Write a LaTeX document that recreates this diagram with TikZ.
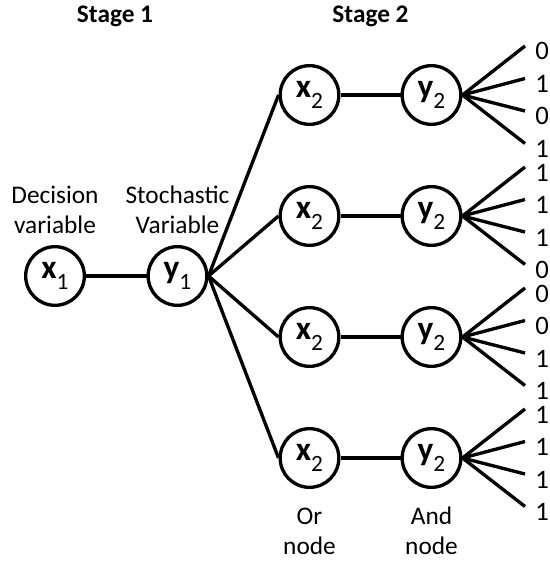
\documentclass[tikz,border=0pt]{standalone}
\usepackage{fontspec}
\setmainfont{Carlito}
% bold variable name with a lowered index
\newcommand\varlbl[2]{{\fontsize{25pt}{25pt}\selectfont\bfseries #1}\raisebox{-8pt}{\fontsize{17.5pt}{17.5pt}\selectfont #2}}
\begin{document}
\begin{tikzpicture}[x=0.75pt,y=-0.75pt,
  state/.style={circle,draw,line width=2.5pt,minimum size=44pt,inner sep=0pt},
  link/.style={line width=2.5pt},
  caption/.style={font=\fontsize{19pt}{22.5pt}\selectfont,align=center,inner sep=0pt},
  stagehead/.style={font=\fontsize{19pt}{22pt}\selectfont\bfseries,inner sep=0pt},
  leaf/.style={font=\fontsize{20pt}{22pt}\selectfont,anchor=base west,inner sep=0pt}]
\useasboundingbox (0,0) rectangle (549,563);

% stage headings
\node[stagehead,anchor=base] (s1) at (115,23) {Stage 1};
\node[stagehead,anchor=base] (s2) at (370.5,23) {Stage 2};

% first stage (caption anchors sit on the baseline of the last line)
\node[state] (x1) at (55,276) {\varlbl{x}{1}};
\node[state] (y1) at (177.5,276) {\varlbl{y}{1}};
\draw[link] (x1) -- (y1);
\node[caption,anchor=base] (c1) at (55,233) {Decision\\variable};
\node[caption,anchor=base] (c2) at (177.5,233) {Stochastic\\Variable};

% second stage: one branch per scenario, four outcomes each
\foreach \r/\row/\a/\b/\c/\d in {1/95/0/1/0/1, 2/216/1/1/1/0, 3/337/0/0/1/1, 4/458/1/1/1/1}{
  \node[state] (x2\r) at (309.5,\row) {\varlbl{x}{2}};
  \node[state] (y2\r) at (431.5,\row) {\varlbl{y}{2}};
  \draw[link] (y1.east) -- (x2\r.west);
  \draw[link] (x2\r) -- (y2\r);
  \foreach \k/\off/\v in {1/-49/\a, 2/-16.5/\b, 3/16/\c, 4/48.5/\d}{
    \coordinate (e\r\k) at (525,{\row+\off});
    \node[leaf] (v\r\k) at (535,{\row+\off+14}) {\v};
    \draw[link] (y2\r.east) -- (e\r\k);
  }
}

\node[caption,anchor=base] (c3) at (309.5,554) {Or\\node};
\node[caption,anchor=base] (c4) at (431.5,554) {And\\node};
\end{tikzpicture}
\end{document}
